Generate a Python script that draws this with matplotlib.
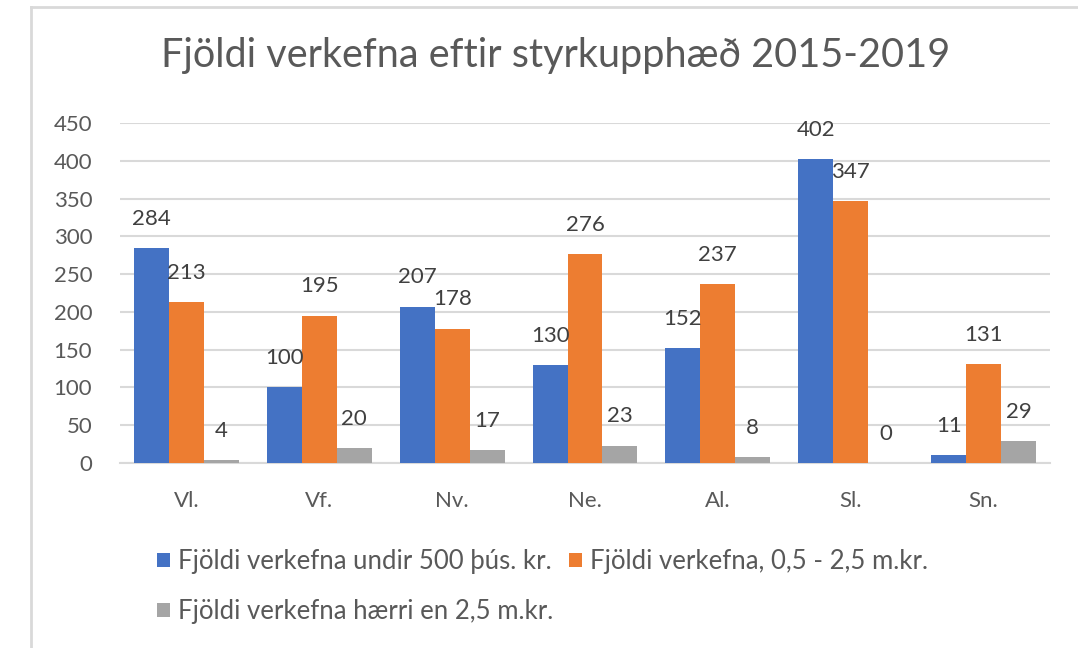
import matplotlib
matplotlib.use("Agg")
import matplotlib.pyplot as plt
from matplotlib.lines import Line2D
import numpy as np

categories = ["Vl.", "Vf.", "Nv.", "Ne.", "Al.", "Sl.", "Sn."]
undir_500 = [284, 100, 207, 130, 152, 402, 11]
milli_05_25 = [213, 195, 178, 276, 237, 347, 131]
haerri_25 = [4, 20, 17, 23, 8, 0, 29]
series_names = [
    "Fjöldi verkefna undir 500 þús. kr.",
    "Fjöldi verkefna, 0,5 - 2,5 m.kr.",
    "Fjöldi verkefna hærri en 2,5 m.kr.",
]
colors = ["#4472C4", "#ED7D31", "#A5A5A5"]
title = "Fjöldi verkefna eftir styrkupphæð 2015-2019"
yticks = [0, 50, 100, 150, 200, 250, 300, 350, 400, 450]

TXT = "#595959"
GRID = "#D9D9D9"
plt.rcParams["font.family"] = ["Lato", "DejaVu Sans"]

fig = plt.figure(figsize=(10.78, 6.48), dpi=100)
fig.patch.set_facecolor("white")
ax = fig.add_axes([120/1078, 1-463/648, 930/1078, 340/648])

x = np.arange(len(categories))
w = 0.263
all_series = [undir_500, milli_05_25, haerri_25]
handles = []
for i, (vals, c) in enumerate(zip(all_series, colors)):
    bars = ax.bar(x + (i-1)*w, vals, width=w, color=c, zorder=3, label=series_names[i])
    handles.append(bars)
    for xi, v in zip(x, vals):
        ax.annotate(str(v), (xi + (i-1)*w, v), xytext=(0, 21), textcoords="offset points",
                    ha="center", va="center", fontsize=16, color="#404040", zorder=4)

ax.set_xlim(-0.5, len(categories)-0.5)
ax.set_ylim(0, 450)
ax.set_yticks(yticks)
ax.set_yticklabels([str(t) for t in yticks])
ax.set_xticks(x)
ax.set_xticklabels(categories)
ax.yaxis.grid(True, color=GRID, linewidth=1.5, zorder=0)
ax.set_axisbelow(True)
for s in ["top", "right", "left"]:
    ax.spines[s].set_visible(False)
ax.spines["bottom"].set_color(GRID)
ax.spines["bottom"].set_linewidth(1.5)
ax.tick_params(axis="both", length=0, colors=TXT, labelsize=16)
ax.tick_params(axis="y", pad=20)
ax.tick_params(axis="x", pad=20)

fig.text(556/1078, 1-56/648, title, ha="center", va="center", fontsize=28.5, color=TXT)

order = [0, 2, 1]
leg = fig.legend([handles[k] for k in order], [series_names[k] for k in order],
                 ncol=2, loc="upper left", bbox_to_anchor=(157/1078, 1-549/648),
                 frameon=False, fontsize=18.5, handlelength=0.5, handleheight=0.5,
                 handletextpad=0.32, columnspacing=0.6, labelspacing=0.98,
                 borderpad=0, borderaxespad=0)
for t in leg.get_texts():
    t.set_color(TXT)

fig.add_artist(Line2D([31/1078, 31/1078], [0, 1-7/648], transform=fig.transFigure, color=GRID, linewidth=2))
fig.add_artist(Line2D([31/1078, 1], [1-7/648, 1-7/648], transform=fig.transFigure, color=GRID, linewidth=2))

fig.savefig("out.png", dpi=100)
